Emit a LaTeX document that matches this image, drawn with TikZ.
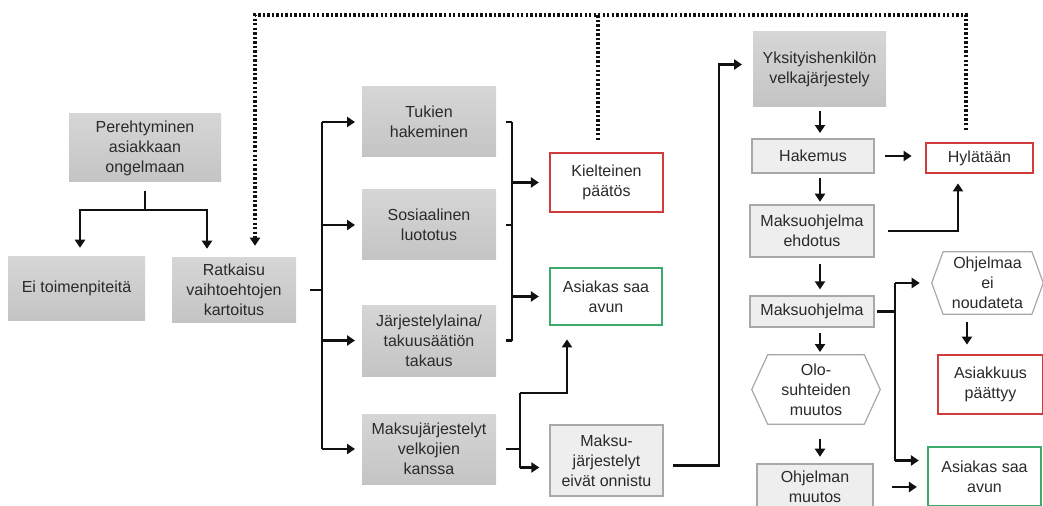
\documentclass[tikz,border=0pt]{standalone}
\usepackage{fontspec}
\setmainfont{Liberation Sans}
\usetikzlibrary{arrows.meta,calc,backgrounds}
\definecolor{txt}{HTML}{2A2A2A}
\definecolor{redb}{HTML}{D23B3B}
\definecolor{greenb}{HTML}{3BAA6B}
\definecolor{lgfill}{HTML}{EEEEEE}
\definecolor{lgdraw}{HTML}{A8A8A8}
\definecolor{lnc}{HTML}{111111}
\definecolor{gtop}{HTML}{D6D6D6}
\definecolor{gbot}{HTML}{C4C4C4}
\tikzset{
  base/.style={inner sep=0pt, align=center, text=txt, font=\fontsize{12}{15}\selectfont},
  darkbox/.style={base, top color=gtop, bottom color=gbot},
  lightbox/.style={base, fill=lgfill, draw=lgdraw, line width=0.9pt},
  redbox/.style={base, fill=white, draw=redb, line width=1.6pt},
  greenbox/.style={base, fill=white, draw=greenb, line width=1.6pt},
  hexbox/.style={base},
  hexline/.style={fill=white, draw=lgdraw, line width=0.9pt},
  conn/.style={draw=lnc, line width=2.1pt},
  arr/.style={conn, -{Triangle[length=6pt,width=7.5pt]}},
  dotline/.style={draw=lnc, line width=2.4pt, dash pattern=on 1.8pt off 1.6pt},
}
\begin{document}
\begin{tikzpicture}[x=0.75pt,y=-0.75pt]
\useasboundingbox (0,0) rectangle (1043,506);
% nodes
\node[darkbox, minimum width=114pt, minimum height=51pt] (per) at (145,148) {Perehtyminen\\asiakkaan\\ongelmaan};
\node[darkbox, minimum width=102.75pt, minimum height=47.25pt] (ei) at (76.5,288.5) {Ei toimenpiteitä};
\node[darkbox, minimum width=93pt, minimum height=48pt] (rat) at (234,290) {Ratkaisu\\vaihtoehtojen\\kartoitus};
\node[darkbox, minimum width=100.5pt, minimum height=52.5pt] (tuk) at (429,122) {Tukien\\hakeminen};
\node[darkbox, minimum width=100.5pt, minimum height=52.5pt] (sos) at (429,225) {Sosiaalinen\\luototus};
\node[darkbox, minimum width=100.5pt, minimum height=53.25pt] (jar) at (429,340.5) {Järjestelylaina/\\takuusäätiön\\takaus};
\node[darkbox, minimum width=100.5pt, minimum height=52.5pt] (mak) at (429,449) {Maksujärjestelyt\\velkojien\\kanssa};
\node[redbox, minimum width=84.75pt, minimum height=44.25pt] (kie) at (606.5,182.5) {Kielteinen\\päätös};
\node[greenbox, minimum width=84pt, minimum height=42.75pt] (asi1) at (606,296.5) {Asiakas saa\\avun};
\node[lightbox, minimum width=84.75pt, minimum height=53.25pt] (mje) at (606.5,460.5) {Maksu-\\järjestelyt\\eivät onnistu};
\node[darkbox, minimum width=99.75pt, minimum height=56.25pt] (yks) at (819.5,69.5) {Yksityishenkilön\\velkajärjestely};
\node[lightbox, minimum width=91.5pt, minimum height=25.5pt] (hak) at (813,156) {Hakemus};
\node[lightbox, minimum width=93pt, minimum height=39pt] (meh) at (812,231) {Maksuohjelma\\ehdotus};
\node[redbox, minimum width=80.25pt, minimum height=22.5pt] (hyl) at (979.5,158) {Hylätään};
\node[lightbox, minimum width=93pt, minimum height=23.25pt] (moh) at (812,311.5) {Maksuohjelma};
\node[hexbox, minimum width=96pt, minimum height=51.75pt] (olo) at (816,389.5) {Olo-\\suhteiden\\muutos};
\node[lightbox, minimum width=87pt, minimum height=34.5pt] (ohm) at (815,487) {Ohjelman\\muutos};
\node[greenbox, minimum width=84.75pt, minimum height=44.25pt] (asi2) at (984.5,476.5) {Asiakas saa\\avun};
\node[hexbox, minimum width=83.25pt, minimum height=46.5pt] (ohj) at (987.5,283) {Ohjelmaa\\ei\\noudateta};
\node[redbox, minimum width=78.75pt, minimum height=44.25pt] (asu) at (990.5,384.5) {Asiakkuus\\päättyy};
% hexagons
\begin{scope}[on background layer]
\draw[hexline] (olo.west) -- ([xshift=12pt]olo.north west) -- ([xshift=-12pt]olo.north east) -- (olo.east) -- ([xshift=-12pt]olo.south east) -- ([xshift=12pt]olo.south west) -- cycle;
\draw[hexline] (ohj.west) -- ([xshift=8.5pt]ohj.north west) -- ([xshift=-8.5pt]ohj.north east) -- (ohj.east) -- ([xshift=-8.5pt]ohj.south east) -- ([xshift=8.5pt]ohj.south west) -- cycle;
\end{scope}
% per -> ei, rat
\coordinate (j1) at (145,210);
\draw[conn,shorten <=6.75pt] (per.south) -- (j1);
\draw[arr,shorten >=6.75pt] (j1) -| (80,0 |- ei.north);
\draw[arr,shorten >=6.75pt] (j1) -| (207,0 |- rat.north);
% dotted feedback
\coordinate (d1) at (255,15);
\coordinate (d2) at (598,15);
\coordinate (d3) at (966,15);
\draw[dotline,shorten <=9pt] (966,0 |- hyl.north) -- (d3) -- (d2);
\draw[dotline,-{Triangle[length=6pt,width=7.5pt]},shorten <=9pt,shorten >=9pt] (598,0 |- kie.north) -- (d2) -- (d1) -- (255,0 |- rat.north);
% left bus
\draw[conn,shorten <=10pt] (rat.east) -- (322,0 |- rat.east);
\draw[conn] (322,0 |- tuk.west) -- (322,0 |- mak.west);
\foreach \n in {tuk,sos,jar,mak} \draw[arr,shorten >=5pt] (322,0 |- \n.west) -- (\n.west);
% right bus
\foreach \n in {tuk,sos,jar} \draw[conn,shorten <=7pt] (\n.east) -- (512,0 |- \n.east);
\draw[conn] (512,0 |- tuk.east) -- (512,0 |- jar.east);
\draw[arr,shorten >=7.5pt] (512,0 |- kie.west) -- (kie.west);
\draw[arr,shorten >=7.5pt] (512,0 |- asi1.west) -- (asi1.west);
% maksujarjestelyt
\coordinate (m2) at ($(mje.west)+(0,7)$);
\draw[conn,shorten <=7pt] (mak.east) -- (520,0 |- mak.east);
\draw[conn] (520,393) -- (520,0 |- m2);
\draw[arr,shorten >=10pt] (520,393) -| (567,0 |- asi1.south);
\draw[arr,shorten >=7.5pt] (520,0 |- m2) -- (m2);
% mje -> yks
\coordinate (m3) at ($(mje.east)+(0,5)$);
\coordinate (y1) at ($(yks.west)+(0,-5)$);
\draw[arr,shorten <=7pt,shorten >=8pt] (m3) -| (719,0 |- y1) -- (y1);
% chain
\draw[arr,shorten <=2.5pt,shorten >=4pt] (820,0 |- yks.south) -- (820,0 |- hak.north);
\draw[arr,shorten <=3.5pt,shorten >=2pt] (820,0 |- hak.south) -- (820,0 |- meh.north);
\draw[arr,shorten <=4.5pt,shorten >=4.5pt] (820,0 |- meh.south) -- (820,0 |- moh.north);
\draw[arr,shorten <=4pt,shorten >=2pt] (820,0 |- moh.south) -- (820,0 |- olo.north);
\draw[arr,shorten <=11pt,shorten >=5pt] (820,0 |- olo.south) -- (820,0 |- ohm.north);
% to hylataan
\draw[arr,shorten <=8pt,shorten >=10pt] (hak.east) -- (hak.east -| hyl.west);
\draw[arr,shorten <=10pt,shorten >=7pt] (meh.east) -| (958,0 |- hyl.south);
% maksuohjelma bus
\coordinate (a2) at ($(asi2.west)+(0,-16)$);
\draw[conn,shorten <=1.5pt] (moh.east) -- (895,0 |- moh.east);
\draw[conn] (895,0 |- ohj.west) -- (895,0 |- a2);
\draw[arr,shorten >=9pt] (895,0 |- ohj.west) -- (ohj.west);
\draw[arr,shorten >=6pt] (895,0 |- a2) -- (a2);
\draw[arr,shorten <=14pt,shorten >=7.5pt] (ohm.east) -- (ohm.east -| asi2.west);
\draw[arr,shorten <=6pt,shorten >=7pt] (967,0 |- ohj.south) -- (967,0 |- asu.north);
\end{tikzpicture}
\end{document}
